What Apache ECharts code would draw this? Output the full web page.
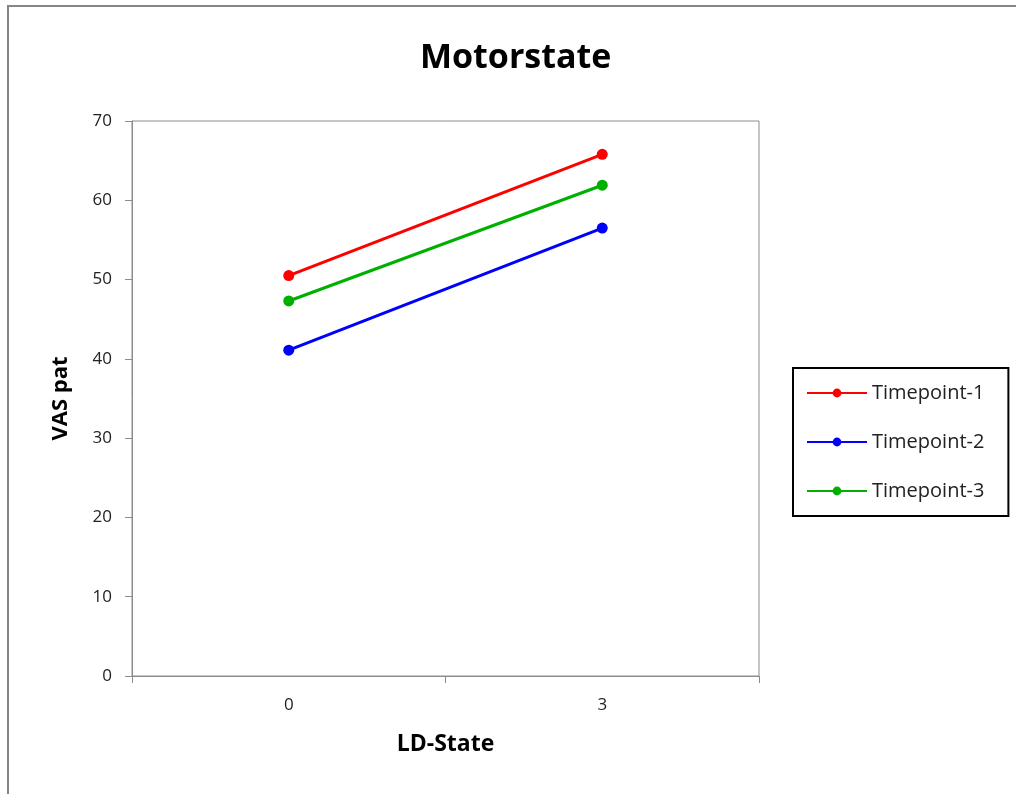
<!DOCTYPE html>
<html>
<head>
<meta charset="utf-8">
<script src="https://cdn.jsdelivr.net/npm/echarts@6/dist/echarts.min.js"></script>
<style>
  html, body { margin: 0; padding: 0; background: #fff; overflow: hidden; }
  #frame { position: absolute; left: 7px; top: 5px; width: 1200px; height: 1000px;
           border-left: 2px solid #858585; border-top: 2px solid #858585; }
  #main { position: absolute; left: 0; top: 0; width: 1016px; height: 794px; }
</style>
</head>
<body>
<div id="frame"></div>
<div id="main"></div>
<script>
var categories = ['0', '3'];
var timepoint1 = [50.5, 65.8];
var timepoint2 = [41.1, 56.5];
var timepoint3 = [47.3, 61.9];

var myChart = echarts.init(document.getElementById('main'));
var font = 'Open Sans, Liberation Sans, sans-serif';

function lineSeries (name, data, color) {
    return {
        name: name,
        type: 'line',
        data: data,
        symbol: 'circle',
        symbolSize: 11,
        lineStyle: { color: color, width: 3 },
        itemStyle: { color: color },
        emphasis: { disabled: true }
    };
}

var option = {
    animation: false,
    backgroundColor: 'transparent',
    title: {
        text: 'Motorstate',
        left: 415,
        top: 36,
        textStyle: { fontFamily: font, fontSize: 34, fontWeight: 'bold', color: '#000' }
    },
    legend: {
        orient: 'vertical',
        left: 793,
        top: 368,
        borderColor: '#000',
        borderWidth: 2,
        padding: [15, 24, 15, 13],
        itemGap: 29,
        itemWidth: 60,
        itemHeight: 11,
        textStyle: { fontFamily: font, fontSize: 20, color: '#222' },
        data: ['Timepoint-1', 'Timepoint-2', 'Timepoint-3']
    },
    grid: {
        left: 132,
        top: 121,
        right: 257,
        bottom: 118,
        show: true,
        borderColor: '#8c8c8c',
        borderWidth: 1
    },
    xAxis: {
        type: 'category',
        data: categories,
        boundaryGap: true,
        name: 'LD-State',
        nameLocation: 'middle',
        nameGap: 57,
        nameTextStyle: { fontFamily: font, fontSize: 23, fontWeight: 'bold', color: '#000' },
        axisLine: { lineStyle: { color: '#8c8c8c' } },
        axisTick: { show: true, length: 7, lineStyle: { color: '#8c8c8c' } },
        axisLabel: { fontFamily: font, fontSize: 17, color: '#222', margin: 21 },
        splitLine: { show: false }
    },
    yAxis: {
        type: 'value',
        min: 0,
        max: 70,
        interval: 10,
        name: 'VAS pat',
        nameLocation: 'middle',
        nameGap: 60,
        nameTextStyle: { fontFamily: font, fontSize: 22, fontWeight: 'bold', color: '#000' },
        axisLine: { show: true, lineStyle: { color: '#8c8c8c' } },
        axisTick: { show: true, length: 7, lineStyle: { color: '#8c8c8c' } },
        axisLabel: { fontFamily: font, fontSize: 17, color: '#222', margin: 20 },
        splitLine: { show: false }
    },
    series: [
        lineSeries('Timepoint-1', timepoint1, '#ff0000'),
        lineSeries('Timepoint-2', timepoint2, '#0000ff'),
        lineSeries('Timepoint-3', timepoint3, '#00b000')
    ]
};

myChart.setOption(option);
</script>
</body>
</html>
